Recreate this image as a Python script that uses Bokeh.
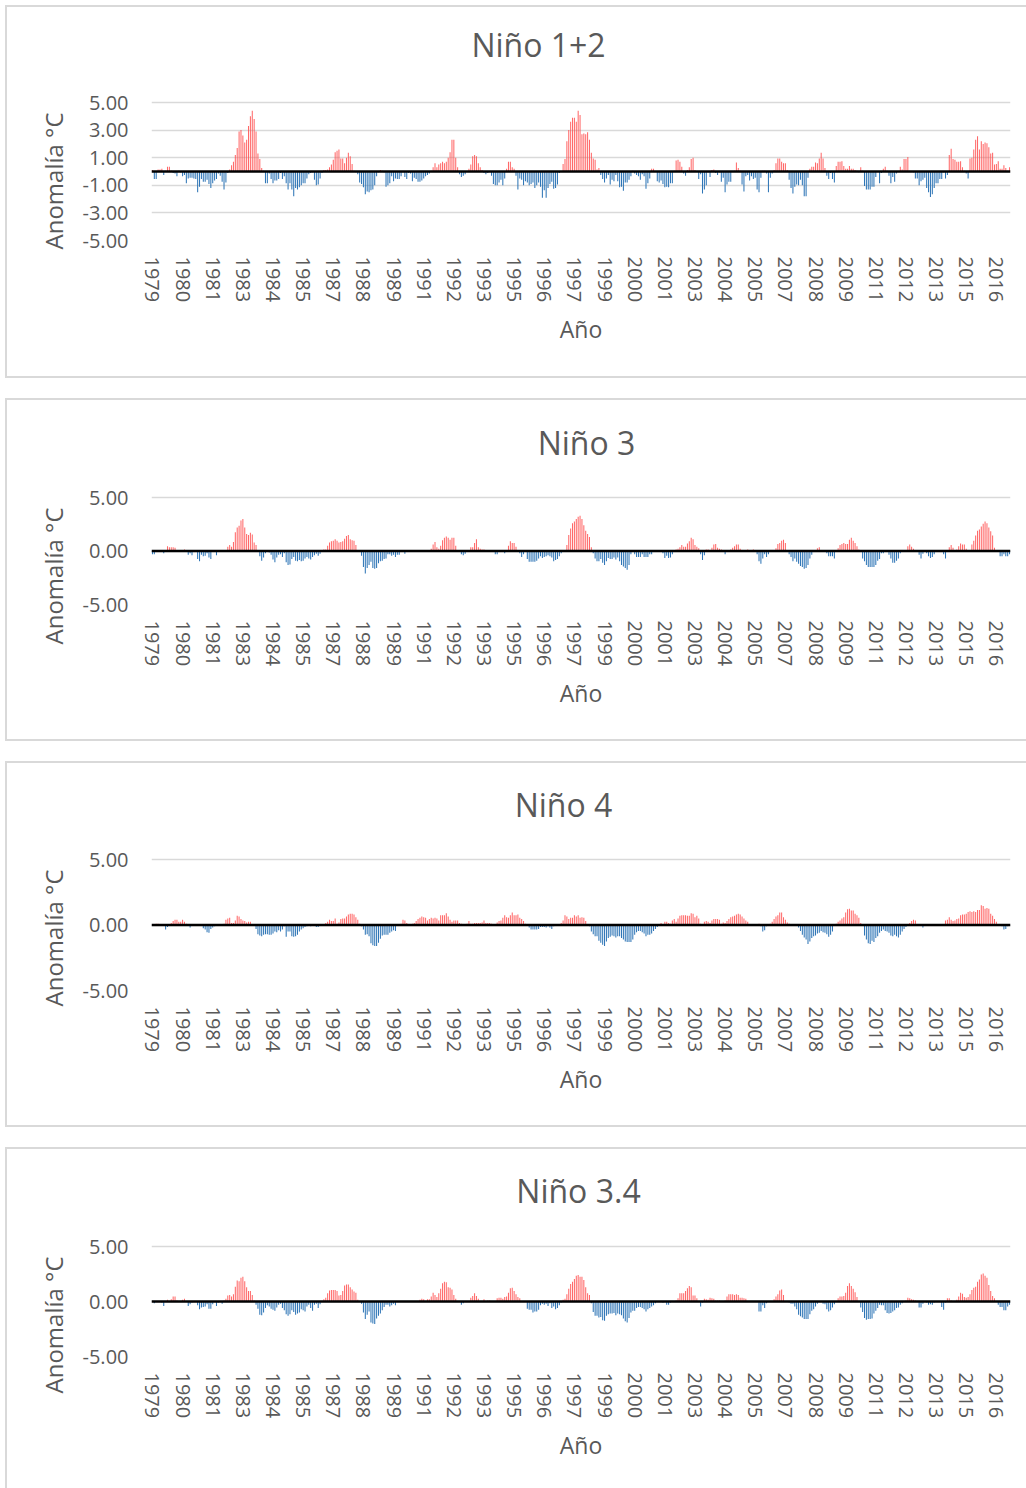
from bokeh.plotting import figure
from bokeh.layouts import column
from bokeh.models import (ColumnDataSource, Range1d, FixedTicker, NumeralTickFormatter, Span,
                          Label, Title)
from bokeh.embed import file_html
from bokeh.resources import INLINE

# ---------------- data (monthly anomalies, Jan 1979 - Dec 2016) ----------------
tick_labels = ["1979", "1980", "1981", "1983", "1984", "1985", "1987", "1988", "1989",
               "1991", "1992", "1993", "1995", "1996", "1997", "1999", "2000", "2001",
               "2003", "2004", "2005", "2007", "2008", "2009", "2011", "2012", "2013",
               "2015", "2016"]
tick_months = [0, 16, 32, 48, 64, 80, 96, 112, 128, 144, 160, 176, 192, 208, 224,
               240, 256, 272, 288, 304, 320, 336, 352, 368, 384, 400, 416, 432, 448]

nino12 = [
    0.1, -0.55, -0.55, 0.15, 0.15, 0.2, -0.25, 0.05, 0.35, 0.35, 0.05, -0.1,      # 1979
    -0.15, -0.35, 0.05, -0.05, -0.35, -0.25, -0.85, -0.5, -0.45, -0.45, -0.5, -0.55,
    -1.5, -1.1, -0.55, -0.75, -0.75, -0.6, -0.9, -1.2, -0.85, -0.65, -0.55, -0.15,
    -0.3, -0.75, -1.3, -0.8, -0.1, 0.15, 0.45, 0.7, 1.2, 1.7, 2.9, 3.0,
    2.6, 2.1, 2.3, 3.3, 4.0, 4.4, 3.8, 2.9, 1.3, 0.9, 0.25, 0.05,                  # 1983
    -0.85, -0.85, -0.15, -0.55, -0.85, -0.65, -0.65, -0.55, -0.1, -0.55, -0.35, -0.85,
    -1.3, -0.85, -1.3, -1.8, -1.2, -1.3, -1.15, -1.0, -0.85, -0.85, -0.5, -0.2,
    -0.1, -0.05, -0.6, -1.0, -0.95, -0.5, -0.1, 0.1, 0.1, 0.15, 0.3, 0.5,
    0.85, 1.4, 1.5, 1.6, 0.95, 0.95, 0.6, 1.0, 1.35, 1.1, 0.55, 0.05,              # 1987
    -0.05, -0.2, -0.8, -0.9, -1.15, -1.65, -1.45, -1.5, -1.35, -1.3, -1.0, -0.35,
    -0.05, 0.1, 0.05, -0.05, -1.1, -1.0, -0.85, -0.35, -0.7, -0.5, -0.55, -0.55,
    -0.35, -0.05, -0.4, -0.55, -0.1, -0.15, -0.7, -0.45, -0.55, -0.75, -0.75, -0.65,
    -0.5, -0.35, -0.25, -0.15, 0.05, 0.3, 0.6, 0.3, 0.5, 0.6, 0.7, 0.6,            # 1991
    0.7, 1.0, 1.4, 2.3, 2.3, 1.0, 0.3, -0.2, -0.4, -0.3, -0.2, 0.0,
    0.2, 0.5, 1.1, 1.2, 1.1, 0.6, 0.3, 0.1, -0.1, -0.2, -0.1, 0.0,
    -0.3, -0.9, -1.0, -1.0, -0.8, -0.6, -1.0, -0.5, 0.2, 0.7, 0.7, 0.3,
    0.2, -0.3, -1.3, -0.5, -0.6, -1.0, -0.7, -0.8, -1.0, -0.9, -0.8, -1.2,          # 1995
    -1.0, -0.8, -1.1, -1.9, -1.35, -1.9, -1.2, -0.9, -0.75, -1.25, -1.2, -0.95,
    -0.1, 0.0, 0.55, 0.9, 2.2, 3.0, 3.6, 3.9, 3.9, 3.6, 4.4, 4.1,
    2.7, 2.75, 2.7, 2.85, 2.3, 1.35, 0.95, 0.85, 0.15, 0.25, -0.25, -0.55,
    -0.8, -0.5, -0.25, -0.95, -0.6, -0.7, -0.25, -0.7, -1.15, -1.1, -1.4, -0.8,     # 1999
    -0.8, -0.6, -0.35, 0.05, -0.15, -0.25, -0.35, -0.6, -0.2, -0.35, -1.25, -0.85,
    -0.5, 0.2, 0.2, 0.0, -0.7, -0.8, -0.65, -0.9, -1.15, -1.1, -1.15, -0.85,
    -0.85, 0.05, 0.8, 0.85, 0.7, 0.35, -0.15, -0.3, 0.1, 0.3, 0.9, 1.0,
    0.1, 0.0, -0.55, -0.2, -1.6, -1.3, -1.0, -0.05, -0.4, 0.1, 0.15, -0.1,         # 2003
    -0.25, -0.05, -0.75, -0.45, -1.5, -0.95, -0.75, -0.75, 0.0, 0.05, 0.65, 0.25,
    0.05, -0.95, -1.45, -0.35, -0.25, -0.65, -0.35, -0.55, -0.45, -1.3, -1.5, -0.45,
    0.05, 0.05, -0.15, -1.5, -0.45, -0.15, 0.1, 0.6, 0.95, 0.95, 0.7, 0.6,
    0.6, 0.1, -0.6, -1.2, -1.6, -1.1, -0.95, -1.0, -0.6, -1.0, -1.8, -1.8,         # 2007
    -0.45, 0.2, 0.35, 0.35, 0.65, 0.6, 0.95, 1.35, 0.95, 0.25, -0.3, -0.55,
    -0.1, -0.55, -0.8, 0.4, 0.7, 0.7, 0.75, 0.4, 0.2, 0.2, 0.4, 0.2,
    0.2, 0.1, 0.05, -0.05, 0.3, 0.05, -1.05, -1.3, -1.3, -1.3, -1.1, -1.1,
    -0.4, 0.0, -0.85, -0.1, 0.2, 0.35, 0.05, -0.3, -0.85, -0.4, -0.75, -0.15,      # 2011
    0.0, 0.35, 0.15, 0.9, 0.9, 1.05, 0.05, 0.0, -0.05, -0.5, -0.5, -1.0,
    -0.7, -0.6, -0.45, -1.2, -1.5, -1.85, -1.65, -1.2, -0.85, -0.85, -0.55, -0.55,
    -0.05, -0.5, -0.25, 1.2, 1.65, 0.9, 0.85, 0.7, 0.7, 0.75, 0.3, 0.05,
    -0.15, -0.5, 0.95, 1.0, 1.6, 2.3, 2.55, 1.6, 2.2, 2.0, 2.1, 2.05,              # 2015
    1.75, 1.3, 1.35, 0.5, 0.55, 0.75, 0.2, 0.2, 0.45, 0.25, 0.05, 0.3,
]

nino3 = [
    -0.3, -0.3, 0.0, 0.0, 0.05, 0.05, -0.2, 0.05, 0.45, 0.35, 0.35, 0.35,          # 1979
    0.3, 0.05, 0.05, 0.05, 0.05, 0.15, 0.0, -0.35, -0.2, -0.4, 0.0, -0.1,
    -0.75, -0.95, -0.35, -0.5, -0.45, -0.2, -0.6, -0.75, -0.1, 0.0, -0.4, 0.0,
    0.1, 0.0, 0.05, 0.1, 0.4, 0.55, 0.4, 0.85, 1.75, 2.2, 2.35, 2.85,
    3.0, 2.2, 1.6, 1.5, 1.7, 1.55, 0.8, 0.55, 0.0, -0.5, -0.9, -0.6,               # 1983
    -0.2, 0.0, -0.15, -0.35, -0.8, -1.05, -0.6, -0.35, -0.3, -0.55, -0.2, -1.05,
    -1.3, -1.25, -0.75, -0.55, -0.9, -0.95, -0.85, -0.95, -0.9, -0.7, -0.55, -0.7,
    -0.8, -0.55, -0.4, -0.25, -0.45, -0.25, 0.0, 0.15, 0.15, 0.5, 0.8, 0.9,
    0.95, 1.1, 0.95, 0.8, 0.85, 0.9, 1.15, 1.4, 1.5, 1.1, 1.0, 0.95,               # 1987
    0.55, 0.05, -0.1, -0.45, -1.5, -2.1, -1.6, -1.3, -1.0, -1.6, -1.65, -1.6,
    -1.15, -0.95, -0.9, -0.75, -0.7, -0.3, -0.3, -0.45, -0.35, -0.55, -0.35, -0.35,
    -0.1, 0.0, -0.25, 0.0, 0.1, 0.0, 0.03, 0.03, 0.03, 0.03, 0.03, 0.03,
    0.0, 0.0, 0.0, 0.0, 0.2, 0.6, 0.85, 0.35, 0.2, 0.5, 1.0, 1.25,                 # 1991
    1.35, 1.25, 1.05, 1.25, 1.25, 0.5, 0.05, -0.1, -0.3, -0.4, -0.25, 0.05,
    0.1, 0.35, 0.35, 0.75, 1.1, 0.35, 0.2, 0.15, 0.15, 0.0, 0.05, 0.0,
    0.1, 0.0, -0.3, -0.3, 0.0, 0.0, 0.0, -0.2, 0.0, 0.5, 0.9, 0.75,
    0.75, 0.4, 0.05, -0.2, -0.55, -0.3, 0.0, -0.75, -1.0, -1.0, -1.0, -1.0,        # 1995
    -0.9, -0.7, -0.5, -0.65, -0.55, -0.5, -0.4, -0.5, -0.6, -0.95, -0.85, -0.75,
    -0.5, -0.2, 0.0, 0.0, 0.55, 1.5, 2.1, 2.6, 2.75, 3.0, 3.2, 3.3,
    3.0, 2.4, 1.9, 1.6, 1.3, 0.35, -0.2, -0.7, -0.95, -0.95, -0.75, -1.1,
    -1.3, -0.95, -0.65, -0.75, -0.75, -0.6, -0.8, -0.6, -0.95, -1.3, -1.45, -1.6,  # 1999
    -1.75, -1.3, -0.3, -0.05, -0.3, -0.55, -0.55, -0.55, -0.3, -0.55, -0.55, -0.55,
    -0.3, -0.3, -0.05, 0.0, 0.0, 0.05, 0.0, -0.2, -0.65, -0.45, -0.65, -0.6,
    -0.3, 0.05, 0.15, 0.2, 0.35, 0.55, 0.4, 0.4, 0.7, 0.9, 1.25, 1.1,
    0.55, 0.4, 0.25, -0.3, -0.85, -0.4, 0.15, 0.15, 0.05, 0.3, 0.6, 0.65,          # 2003
    0.3, 0.2, 0.15, 0.0, -0.3, 0.0, 0.05, 0.15, 0.3, 0.45, 0.6, 0.6,
    0.2, 0.0, 0.0, 0.05, 0.15, 0.1, 0.1, 0.15, 0.0, -0.3, -0.95, -1.2,
    -0.7, -0.3, -0.55, -0.3, 0.0, 0.05, 0.05, 0.25, 0.65, 0.75, 0.95, 1.05,
    0.75, 0.0, -0.3, -0.55, -0.95, -0.7, -1.0, -1.2, -1.4, -1.5, -1.65, -1.6,      # 2007
    -1.3, -0.7, -0.35, 0.0, 0.05, 0.25, 0.35, 0.05, 0.0, -0.05, -0.2, -0.5,
    -0.5, -0.5, -0.7, 0.0, 0.25, 0.55, 0.65, 0.75, 0.65, 0.65, 1.05, 1.25,
    0.95, 0.75, 0.45, 0.15, -0.05, -0.7, -0.95, -1.3, -1.5, -1.5, -1.5, -1.5,
    -1.3, -0.9, -0.75, -0.2, -0.2, 0.0, 0.0, -0.35, -0.7, -1.1, -1.1, -0.9,        # 2011
    -0.7, -0.2, 0.0, 0.0, 0.1, 0.45, 0.6, 0.4, 0.2, 0.0, 0.0, -0.35,
    -0.7, -0.25, 0.0, -0.2, -0.5, -0.65, -0.55, -0.3, -0.05, 0.0, 0.0, -0.05,
    -0.3, -0.7, -0.1, 0.35, 0.55, 0.3, 0.05, 0.15, 0.45, 0.7, 0.6, 0.6,
    0.2, 0.05, 0.1, 0.6, 0.95, 1.45, 1.9, 2.0, 2.3, 2.55, 2.75, 2.6,               # 2015
    2.2, 1.85, 1.45, 0.3, 0.0, -0.05, -0.5, -0.5, -0.3, -0.5, -0.5, -0.3,
]

nino4 = [
    0.05, 0.05, 0.1, 0.1, 0.05, 0.0, -0.05, -0.35, -0.15, 0.0, 0.15, 0.3,          # 1979
    0.4, 0.4, 0.25, 0.25, 0.4, 0.25, 0.1, 0.0, -0.2, 0.0, 0.05, 0.0,
    0.0, -0.05, 0.0, -0.25, -0.35, -0.55, -0.6, -0.3, -0.2, -0.1, 0.0, 0.0,
    0.0, -0.05, 0.1, 0.4, 0.5, 0.55, 0.15, 0.15, 0.35, 0.7, 0.65, 0.45,
    0.35, 0.3, 0.2, 0.25, 0.25, 0.05, 0.0, -0.3, -0.7, -0.8, -0.85, -0.75,         # 1983
    -0.7, -0.7, -0.75, -0.75, -0.65, -0.5, -0.55, -0.4, -0.5, -0.35, -0.1, -0.9,
    -0.5, -0.5, -0.85, -0.9, -0.85, -0.75, -0.5, -0.35, -0.25, -0.15, -0.1, -0.05,
    -0.1, 0.0, 0.0, -0.15, -0.15, 0.0, 0.0, 0.05, 0.15, 0.25, 0.4, 0.3,
    0.3, 0.5, 0.1, 0.2, 0.45, 0.5, 0.5, 0.65, 0.8, 0.85, 0.85, 0.8,                # 1987
    0.6, 0.4, 0.1, -0.1, -0.35, -0.75, -0.7, -0.85, -1.4, -1.55, -1.6, -1.6,
    -1.35, -1.05, -0.8, -0.75, -0.75, -0.75, -0.6, -0.5, -0.4, -0.45, 0.0, 0.05,
    0.1, 0.4, 0.35, 0.15, 0.05, 0.05, 0.1, 0.15, 0.3, 0.45, 0.55, 0.65,
    0.6, 0.55, 0.35, 0.45, 0.55, 0.5, 0.55, 0.5, 0.35, 0.75, 0.75, 0.75,           # 1991
    0.9, 0.65, 0.4, 0.25, 0.35, 0.35, 0.35, 0.15, 0.1, 0.05, 0.05, 0.1,
    0.3, 0.1, 0.1, 0.15, 0.15, 0.15, 0.15, 0.2, 0.35, 0.15, 0.15, 0.15,
    0.1, 0.05, 0.05, 0.2, 0.3, 0.35, 0.55, 0.75, 0.6, 0.55, 0.75, 0.95,
    0.75, 0.75, 0.8, 0.55, 0.45, 0.3, 0.1, 0.0, -0.2, -0.35, -0.35, -0.35,         # 1995
    -0.35, -0.3, -0.15, -0.15, -0.15, -0.2, -0.1, -0.2, -0.3, -0.1, -0.05, -0.05,
    0.0, 0.15, 0.35, 0.75, 0.65, 0.45, 0.55, 0.55, 0.75, 0.65, 0.75, 0.55,
    0.6, 0.55, 0.3, 0.05, -0.1, -0.5, -0.7, -0.85, -0.85, -1.2, -1.35, -1.5,
    -1.6, -1.25, -1.0, -0.9, -0.8, -0.85, -0.95, -0.85, -0.85, -1.0, -1.1, -1.25,  # 1999
    -1.3, -1.3, -1.3, -1.1, -0.75, -0.55, -0.45, -0.45, -0.55, -0.65, -0.85, -0.75,
    -0.75, -0.65, -0.45, -0.3, -0.15, 0.0, 0.15, 0.05, 0.25, 0.25, 0.15, 0.1,
    0.35, 0.45, 0.25, 0.5, 0.7, 0.75, 0.75, 0.75, 0.7, 0.7, 0.9, 0.85,
    0.6, 0.7, 0.5, 0.1, 0.05, 0.25, 0.3, 0.25, 0.15, 0.35, 0.45, 0.45,             # 2003
    0.45, 0.4, 0.1, 0.2, 0.15, 0.3, 0.45, 0.6, 0.65, 0.7, 0.8, 0.85,
    0.8, 0.65, 0.5, 0.35, 0.25, 0.05, 0.0, 0.0, 0.0, 0.05, 0.1, -0.1,
    -0.5, -0.4, -0.1, 0.0, 0.1, 0.25, 0.45, 0.65, 0.75, 0.95, 0.95, 0.6,
    0.4, 0.2, 0.1, 0.0, 0.0, 0.0, -0.05, -0.2, -0.45, -0.75, -0.95, -1.1,          # 2007
    -1.45, -1.25, -1.0, -0.85, -0.8, -0.65, -0.6, -0.45, -0.55, -0.6, -0.7, -0.9,
    -0.75, -0.5, 0.0, 0.1, 0.25, 0.35, 0.5, 0.6, 0.95, 1.2, 1.25, 1.1,
    1.1, 0.85, 0.75, 0.55, 0.15, -0.05, -0.8, -1.1, -1.4, -1.45, -1.2, -1.3,
    -1.0, -0.85, -0.6, -0.45, -0.35, -0.45, -0.5, -0.6, -0.8, -0.85, -0.75, -0.85, # 2011
    -0.95, -0.75, -0.5, -0.3, -0.15, -0.05, 0.15, 0.3, 0.4, 0.35, 0.05, 0.0,
    -0.05, -0.2, -0.05, 0.0, 0.0, 0.0, 0.0, 0.0, 0.0, 0.05, 0.0, 0.05,
    0.05, 0.35, 0.4, 0.6, 0.4, 0.3, 0.35, 0.45, 0.5, 0.75, 0.8, 0.8,
    0.85, 1.0, 1.05, 1.0, 1.05, 1.0, 1.15, 1.15, 1.5, 1.45, 1.25, 1.3,             # 2015
    1.25, 0.85, 0.7, 0.45, 0.25, 0.05, 0.0, -0.1, -0.35, -0.3, -0.1, -0.05,
]

nino34 = [
    0.0, -0.15, 0.0, 0.0, 0.0, -0.1, -0.4, 0.05, 0.15, 0.05, 0.2, 0.45,            # 1979
    0.45, 0.1, 0.0, 0.05, 0.15, 0.25, 0.05, -0.4, -0.25, -0.1, 0.0, 0.0,
    -0.35, -0.7, -0.55, -0.5, -0.45, -0.25, -0.65, -0.65, -0.25, -0.05, -0.4, -0.1,
    0.0, -0.2, 0.1, 0.25, 0.55, 0.6, 0.45, 0.65, 1.35, 1.9, 1.85, 2.15,
    2.25, 1.85, 1.3, 0.95, 0.95, 0.6, 0.1, -0.3, -0.65, -1.2, -1.25, -1.0,         # 1983
    -0.6, -0.35, -0.45, -0.65, -0.75, -0.85, -0.55, -0.3, -0.2, -0.6, -0.8, -1.15,
    -1.3, -1.15, -0.8, -0.95, -1.2, -1.1, -1.0, -0.7, -0.8, -0.9, -0.45, -0.3,
    -0.6, -0.85, -0.3, -0.2, -0.6, -0.25, 0.0, 0.2, 0.35, 0.75, 1.0, 1.05,
    1.05, 1.05, 0.95, 0.55, 0.6, 0.95, 1.45, 1.55, 1.55, 1.3, 1.1, 0.9,            # 1987
    0.8, 0.15, 0.0, -0.2, -1.0, -1.6, -1.2, -0.9, -1.9, -2.0, -2.05, -1.55,
    -1.3, -1.1, -0.8, -0.5, -0.3, -0.3, -0.45, -0.35, -0.2, -0.35, -0.05, 0.0,
    0.0, 0.05, 0.05, 0.05, 0.05, 0.05, 0.05, 0.05, 0.05, 0.05, 0.15, 0.25,
    0.2, 0.0, 0.2, 0.2, 0.45, 0.8, 0.6, 0.4, 0.75, 1.15, 1.65, 1.8,                # 1991
    1.75, 1.3, 1.25, 1.1, 0.6, 0.25, 0.0, 0.0, -0.3, -0.15, 0.0, 0.0,
    0.05, 0.35, 0.5, 0.75, 0.5, 0.25, 0.05, 0.0, 0.2, 0.0, 0.1, 0.1,
    0.0, 0.0, 0.05, 0.3, 0.35, 0.35, 0.25, 0.4, 0.45, 0.8, 1.2, 1.25,
    0.95, 0.65, 0.4, 0.3, 0.05, 0.0, 0.0, -0.65, -0.75, -0.75, -1.0, -0.9,         # 1995
    -0.9, -0.75, -0.35, -0.2, -0.3, -0.2, -0.4, -0.15, -0.6, -0.45, -0.7, -0.6,
    -0.35, -0.1, 0.15, 0.25, 0.65, 1.15, 1.6, 1.8, 2.05, 2.35, 2.4, 2.25,
    2.25, 1.95, 1.3, 0.75, 0.6, -0.15, -0.95, -1.3, -1.3, -1.45, -1.4, -1.7,
    -1.75, -1.3, -1.15, -1.1, -1.1, -1.05, -1.25, -1.1, -1.15, -1.25, -1.55, -1.8, # 1999
    -1.9, -1.5, -1.0, -0.85, -0.85, -0.6, -0.5, -0.5, -0.6, -0.7, -0.9, -0.7,
    -0.6, -0.45, -0.35, -0.15, 0.0, 0.0, 0.0, -0.1, -0.05, -0.3, -0.3, -0.1,
    0.0, 0.05, 0.1, 0.3, 0.75, 0.75, 0.75, 0.95, 1.2, 1.4, 1.3, 0.55,
    0.55, 0.3, 0.0, -0.45, -0.1, 0.25, 0.2, 0.15, 0.35, 0.3, 0.25, 0.1,            # 2003
    0.1, 0.1, 0.05, 0.05, 0.1, 0.45, 0.65, 0.65, 0.65, 0.6, 0.65, 0.6,
    0.35, 0.35, 0.3, 0.25, 0.05, 0.0, 0.0, 0.0, 0.0, 0.0, -0.9, -0.9,
    -0.35, -0.6, -0.15, 0.0, 0.0, 0.0, 0.2, 0.45, 0.65, 1.0, 1.1, 0.6,
    0.0, 0.0, -0.1, -0.2, -0.2, -0.45, -0.7, -1.2, -1.35, -1.45, -1.6, -1.6,       # 2007
    -1.6, -1.15, -0.85, -0.7, -0.45, -0.2, 0.0, 0.0, -0.2, -0.25, -0.7, -0.9,
    -0.8, -0.55, -0.25, 0.0, 0.3, 0.45, 0.45, 0.5, 0.8, 1.4, 1.65, 1.4,
    1.15, 0.85, 0.4, 0.0, -0.55, -0.95, -1.5, -1.65, -1.6, -1.6, -1.55, -1.1,
    -0.85, -0.6, -0.3, -0.35, -0.35, -0.8, -1.05, -1.1, -1.05, -0.9, -0.8, -0.6,   # 2011
    -0.55, -0.3, -0.15, 0.0, 0.1, 0.35, 0.3, 0.2, 0.15, 0.1, 0.0, -0.55,
    -0.55, -0.2, 0.0, -0.1, -0.3, -0.25, -0.3, -0.1, 0.0, 0.0, 0.0, -0.5,
    -0.75, -0.1, 0.3, 0.3, 0.1, 0.05, 0.0, 0.15, 0.45, 0.8, 0.7, 0.4,
    0.35, 0.4, 0.65, 1.05, 1.25, 1.35, 1.8, 2.0, 2.45, 2.55, 2.35, 2.15,           # 2015
    1.5, 0.95, 0.5, 0.3, 0.0, -0.3, -0.5, -0.5, -0.8, -0.8, -0.45, -0.3,
]

# ---------------- styling / layout constants ----------------
FONT = "Open Sans"
GREY = "#595959"
GRID = "#d9d9d9"
POS_COLOR = "#ff4d4d"
NEG_COLOR = "#2e75b6"
PAGE_LEFT = 7                 # left edge of every figure on the page
FIG_W = 1019
FRAME_LEFT_PAGE = 151
FRAME_RIGHT_PAGE = 1010
FRAME_TOP = 10                # frame starts 10px below figure top (title lives inside it)
PX_PER_MONTH = (FRAME_RIGHT_PAGE - FRAME_LEFT_PAGE) / 456


def make_panel(name, values, yticks, fig_top, height, g5, g_5, title_px, title_py):
    """fig_top, g5, g_5, title_py are page rows; g5/g_5 are the +5 / -5 grid lines."""
    g_top = g5 - fig_top
    g_bot = g_5 - fig_top
    ppu = (g_bot - g_top) / 10.0
    y_top = 5 + (g_top - FRAME_TOP) / ppu
    title_y = 5 + (g5 - title_py) / ppu
    title_x = (title_px - FRAME_LEFT_PAGE) / PX_PER_MONTH - 0.5

    p = figure(width=FIG_W, height=height, output_backend="svg", toolbar_location=None,
               tools="", title=None, x_range=Range1d(-0.5, len(values) - 0.5),
               y_range=Range1d(-5, y_top),
               min_border_left=FRAME_LEFT_PAGE - PAGE_LEFT,
               min_border_right=PAGE_LEFT + FIG_W - FRAME_RIGHT_PAGE,
               min_border_top=FRAME_TOP, min_border_bottom=height - g_bot,
               styles={"outline": "2px solid #d9d9d9"})
    p.outline_line_color = None
    p.background_fill_color = "white"
    p.border_fill_color = "white"

    src = ColumnDataSource(dict(
        x=list(range(len(values))),
        top=values,
        color=[POS_COLOR if v >= 0 else NEG_COLOR for v in values],
        alpha=[0.85 if v >= 0 else 1.0 for v in values],
    ))

    p.xgrid.visible = False
    p.ygrid.ticker = FixedTicker(ticks=yticks)
    p.ygrid.grid_line_color = GRID
    p.ygrid.grid_line_width = 1.5

    p.vbar(x="x", top="top", bottom=0, width=0.55, fill_color="color", fill_alpha="alpha",
           line_color=None, source=src)

    p.add_layout(Span(location=0, dimension="width", line_color="black", line_width=2.5))

    # y axis (its title is added separately so it can sit where the original has it)
    ya = p.yaxis[0]
    ya.ticker = FixedTicker(ticks=yticks)
    ya.formatter = NumeralTickFormatter(format="0.00")
    ya.axis_line_color = None
    ya.major_tick_line_color = None
    ya.minor_tick_line_color = None
    ya.major_label_text_font = FONT
    ya.major_label_text_font_size = "20px"
    ya.major_label_text_color = GREY
    ya.major_label_standoff = 17

    p.add_layout(Title(text="Anomalía °C", align="right", offset=g_top,
                       vertical_align="middle", standoff=17, text_font=FONT,
                       text_font_size="24px", text_font_style="normal",
                       text_color=GREY), "left")

    # x axis
    xa = p.xaxis[0]
    xa.ticker = FixedTicker(ticks=tick_months)
    xa.major_label_overrides = {m: lbl for m, lbl in zip(tick_months, tick_labels)}
    xa.major_label_orientation = "vertical"
    xa.axis_line_color = None
    xa.major_tick_line_color = None
    xa.minor_tick_line_color = None
    xa.major_label_text_font = FONT
    xa.major_label_text_font_size = "20px"
    xa.major_label_text_color = GREY
    xa.major_label_standoff = 10
    xa.axis_label = "Año"
    xa.axis_label_text_font = FONT
    xa.axis_label_text_font_size = "23px"
    xa.axis_label_text_font_style = "normal"
    xa.axis_label_text_color = GREY
    xa.axis_label_standoff = 8

    p.add_layout(Label(x=title_x, y=title_y, text=name, text_align="center",
                       text_baseline="middle", text_font=FONT, text_font_size="32px",
                       text_color=GREY))
    return p


p1 = make_panel("Niño 1+2", nino12, [-5, -3, -1, 1, 3, 5], 7, 369, 102, 240, 538, 44)
p2 = make_panel("Niño 3", nino3, [-5, 0, 5], 400, 339, 497, 604, 586, 442)
p3 = make_panel("Niño 4", nino4, [-5, 0, 5], 763, 362, 859, 990, 563, 804)
p4 = make_panel("Niño 3.4", nino34, [-5, 0, 5], 1149, 339, 1246, 1356, 578, 1190)

layout = column(p1, p2, p3, p4, spacing=24,
                styles={"margin-left": f"{PAGE_LEFT}px", "margin-top": "7px"})

with open("out.html", "w") as f:
    f.write(file_html(layout, INLINE))
